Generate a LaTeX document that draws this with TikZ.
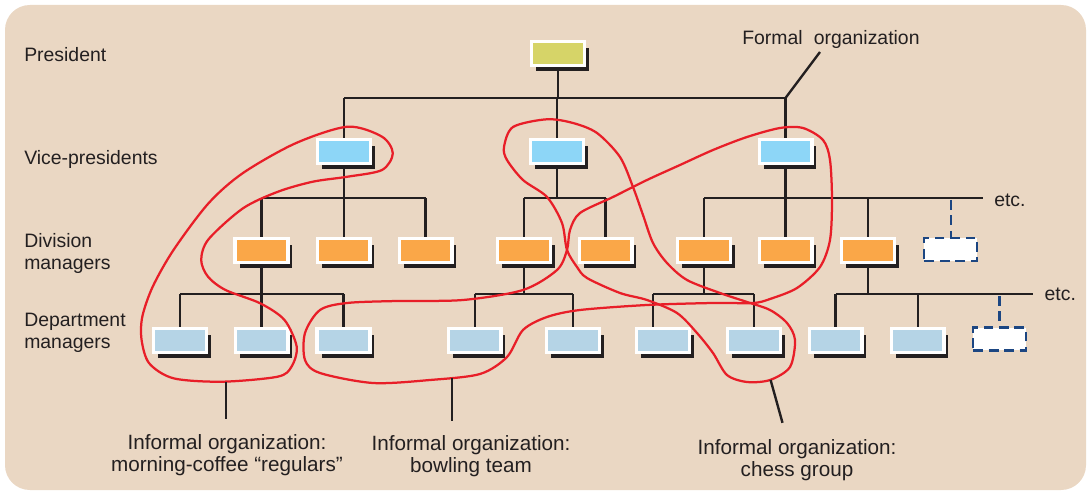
\documentclass[tikz,border=0pt]{standalone}
\usepackage{fontspec}
\setmainfont{Liberation Sans}
\usetikzlibrary{backgrounds,shadows}

\definecolor{paper}{RGB}{234,215,195}
\definecolor{ink}{RGB}{35,31,32}
\definecolor{presfill}{RGB}{214,212,104}
\definecolor{vpfill}{RGB}{141,214,247}
\definecolor{divfill}{RGB}{250,167,72}
\definecolor{deptfill}{RGB}{181,212,230}
\definecolor{dashblue}{RGB}{28,70,130}
\definecolor{loopred}{RGB}{232,30,40}

\begin{document}
\begin{tikzpicture}[x=0.025cm, y=-0.025cm,
  font=\fontsize{13.8pt}{15.3pt}\selectfont, text=ink,
  staff/.style={rectangle, draw=white, line width=2.34pt, inner sep=0pt,
    minimum width=1.3175cm, minimum height=0.5925cm,
    drop shadow={shadow xshift=0.11cm, shadow yshift=-0.15cm, fill=ink, opacity=1}},
  vacancy/.style={rectangle, draw=dashblue, fill=white, line width=1.6pt,
    dash pattern=on 7pt off 4pt, inner sep=0pt, minimum width=1.32cm, minimum height=0.57cm},
  conn/.style={draw=ink, line width=1.7pt},
  dconn/.style={draw=dashblue, line width=1.6pt, dash pattern=on 7pt off 4pt},
  informal/.style={draw=loopred, line width=1.6pt},
  rank/.style={anchor=north west, align=left, inner sep=0pt},
  note/.style={anchor=north, align=center, inner sep=0pt, font=\fontsize{14.7pt}{16pt}\selectfont},
  etcnote/.style={anchor=base west, inner xsep=0.285cm, inner ysep=0pt},
]
\useasboundingbox (0,0) rectangle (1088,492);

% === Rank labels ===
\node[rank] (lpres) at (24,47) {President};
\node[rank] (lvp) at (24,150) {Vice-presidents};
\node[rank] (ldiv) at (24,233.3) {Division\\managers};
\node[rank] (ldept) at (24,313.3) {Department\\managers};

% === Rails ===
\coordinate (rail0) at (0,98);
\coordinate (rail1) at (0,198);
\coordinate (rail2) at (0,294);

% === President and vice-presidents ===
\node[staff, fill=presfill] (pres) at (558,53.5) {};
\node[staff, fill=vpfill] (vp1) at (344,151.5) {};
\node[staff, fill=vpfill] (vp2) at (557,151.5) {};
\node[staff, fill=vpfill] (vp3) at (785.5,151.5) {};

% === Division managers ===
\node[staff, fill=divfill] (dm1) at (261.5,250.5) {};
\node[staff, fill=divfill] (dm2) at (343.7,250.5) {};
\node[staff, fill=divfill] (dm3) at (425.5,250.5) {};
\node[staff, fill=divfill] (dm4) at (523.8,250.5) {};
\node[staff, fill=divfill] (dm5) at (605.5,250.5) {};
\node[staff, fill=divfill] (dm6) at (704,250.5) {};
\node[staff, fill=divfill] (dm7) at (785.5,250.5) {};
\node[staff, fill=divfill] (dm8) at (868,250.5) {};
\node[vacancy] (dmx) at (950.7,249.5) {};
\node[etcnote] (etcdiv) at (982.6,206.5) {etc.};

% === Department managers ===
\node[staff, fill=deptfill] (dp1) at (180,340.5) {};
\node[staff, fill=deptfill] (dp2) at (261.6,340.5) {};
\node[staff, fill=deptfill] (dp3) at (343.5,340.5) {};
\node[staff, fill=deptfill] (dp4) at (474.7,340.5) {};
\node[staff, fill=deptfill] (dp5) at (573,340.5) {};
\node[staff, fill=deptfill] (dp6) at (663,340.5) {};
\node[staff, fill=deptfill] (dp7) at (754,340.5) {};
\node[staff, fill=deptfill] (dp8) at (835.6,340.5) {};
\node[staff, fill=deptfill] (dp9) at (917.7,340.5) {};
\node[vacancy] (dpx) at (999.6,339) {};
\node[etcnote] (etcdept) at (1033,300.8) {etc.};
\coordinate (dp6stem) at ([xshift=-0.25cm]dp6.north);

% === Formal organization ===
\node[anchor=base west, inner sep=0pt] (formal) at (742,44.3) {Formal\hspace{0.3em} organization};
\coordinate (formaltail) at (820,52);

% === Informal organization labels ===
\node[note] (coffee) at (227,434) {Informal organization:\\morning-coffee “regulars”};
\node[note] (bowl) at (471,435) {Informal organization:\\bowling team};
\node[note] (chess) at (797,439) {Informal organization:\\chess group};
\coordinate (coffeetail) at (226,382);
\coordinate (bowltail) at (452,378);
\coordinate (chesstail) at (770.6,380);

\begin{scope}[on background layer]
  \fill[paper, rounded corners=0.62cm] (5,5) rectangle (1086,490);
  % formal chart
  \draw[conn] (pres) -- (pres |- rail0);
  \draw[conn] (vp1 |- rail0) -- (vp3 |- rail0);
  \foreach \n in {vp1,vp2,vp3} \draw[conn] (\n |- rail0) -- (\n);
  \draw[conn] (formaltail) -- (vp3 |- rail0);

  \draw[conn] (vp1) -- (vp1 |- rail1);
  \draw[conn] (dm1 |- rail1) -- (dm3 |- rail1);
  \foreach \n in {dm1,dm2,dm3} \draw[conn] (\n |- rail1) -- (\n);
  \draw[conn] (vp2) -- (vp2 |- rail1);
  \draw[conn] (dm4 |- rail1) -- (dm5 |- rail1);
  \foreach \n in {dm4,dm5} \draw[conn] (\n |- rail1) -- (\n);
  \draw[conn] (vp3) -- (vp3 |- rail1);
  \draw[conn] (dm6 |- rail1) -- (etcdiv.west |- rail1);
  \foreach \n in {dm6,dm7,dm8} \draw[conn] (\n |- rail1) -- (\n);
  \draw[dconn] ([yshift=-0.05cm]dmx |- rail1) -- (dmx.north);

  \draw[conn] (dm1) -- (dm1 |- rail2);
  \draw[conn] (dp1 |- rail2) -- (dp3 |- rail2);
  \foreach \n in {dp1,dp2,dp3} \draw[conn] (\n |- rail2) -- (\n);
  \draw[conn] (dm4) -- (dm4 |- rail2);
  \draw[conn] (dp4 |- rail2) -- (dp5 |- rail2);
  \foreach \n in {dp4,dp5} \draw[conn] (\n |- rail2) -- (\n);
  \draw[conn] (dm6) -- (dm6 |- rail2);
  \draw[conn] (dp6stem |- rail2) -- (dp7 |- rail2);
  \draw[conn] (dp6stem |- rail2) -- (dp6stem);
  \draw[conn] (dp7 |- rail2) -- (dp7);
  \draw[conn] (dm8) -- (dm8 |- rail2);
  \draw[conn] (dp8 |- rail2) -- (etcdept.west |- rail2);
  \foreach \n in {dp8,dp9} \draw[conn] (\n |- rail2) -- (\n);
  \draw[dconn] ([yshift=-0.05cm]dpx |- rail2) -- (dpx.north);
\end{scope}

% === Informal groups ===
\draw[informal] plot[smooth cycle] coordinates {
  (347.6,126.7) (382,136.7) (392.8,153.3) (382,170) (347.6,176.7) (312.8,181.7)
  (278,191.7) (243,208.3) (208.5,239.3) (201.2,260) (208,276.7) (225.5,290)
  (260.2,303.3) (284.5,320) (296.7,346.7) (291.5,366.7) (277.6,376.7) (222,381.7)
  (173.5,378.3) (149.2,363.3) (141.6,340) (142.3,316.7) (152.7,286.7) (173.5,250)
  (208.5,203.3) (243,173) (295.5,143.3)};
\draw[informal] plot[smooth cycle] coordinates {
  (305,333) (320,310) (347,303) (397,301) (463,300) (523,290) (557,270)
  (567,250) (570,230) (580,213) (613,197) (647,180) (680,165) (713,150) (747,137)
  (780,128) (803,128) (823,140) (830,160) (832,200) (830,240) (820,267) (797,288)
  (770,299) (753,303) (713,303) (647,305) (580,310) (547,317) (523,330) (507,357)
  (480,374) (430,380) (373,383) (320,373) (305,360)};
\draw[informal] plot[smooth cycle] coordinates {
  (546.7,119.3) (573,123) (597,133) (620,157) (633,187) (643,215) (653,243)
  (667,263) (687,280) (720,293) (747,302) (770,310) (787,323) (795,340) (790,367)
  (770,380) (747,382) (727,375) (713,353) (697,333) (677,313) (647,300) (620,293)
  (587,278) (577,267) (567,250) (562,223) (547,197) (523,180) (507,160) (504,147)
  (513,127)};

% === Leaders ===
\draw[conn, shorten >=0.375cm] (coffeetail) -- (coffeetail |- coffee.north);
\draw[conn, shorten >=0.35cm] (bowltail) -- (bowltail |- bowl.north);
\draw[conn, shorten >=0.42cm] (chesstail) -- ([xshift=-0.25cm]chess.north);

\end{tikzpicture}
\end{document}
